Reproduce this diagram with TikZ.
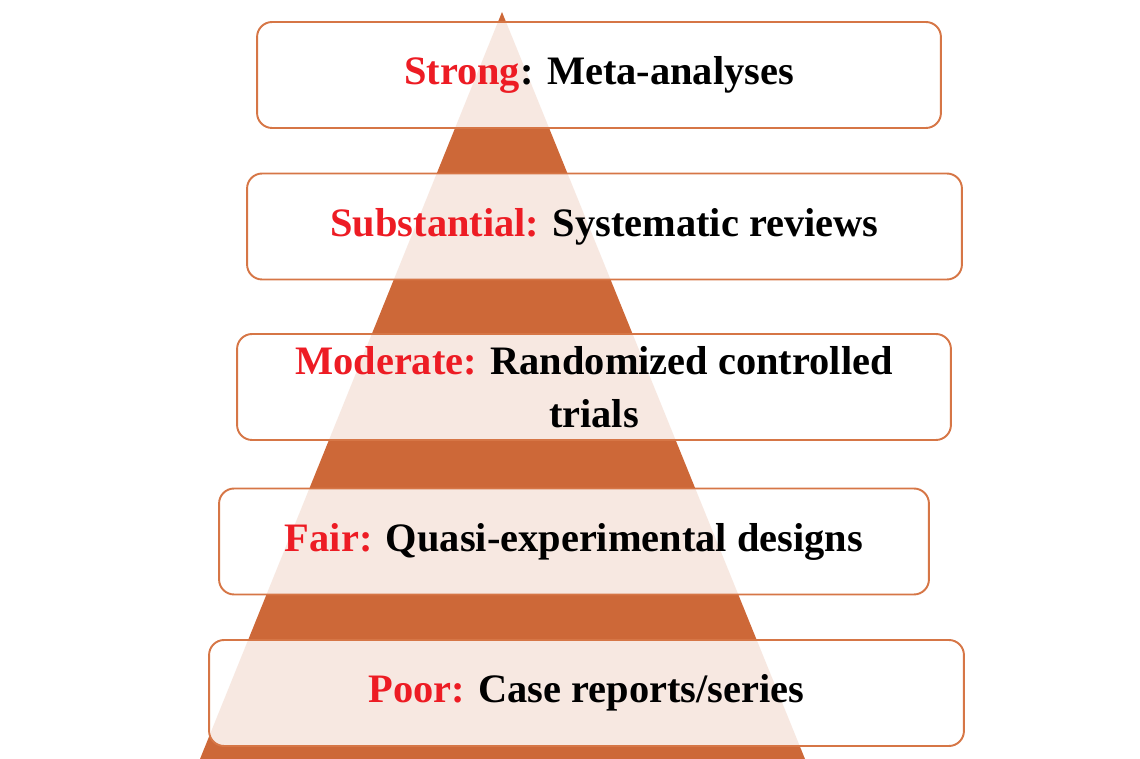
\documentclass[tikz,border=0pt]{standalone}
\usepackage{fontspec}
\setmainfont{Liberation Serif}
\definecolor{piramida}{RGB}{205,104,56}
\definecolor{chenar}{RGB}{214,118,70}
\definecolor{rosu}{RGB}{237,28,36}

\begin{document}
\begin{tikzpicture}[x=0.02cm,y=-0.02cm,
  caseta/.style={draw=chenar,line width=1.1pt,rounded corners=0.3cm,
    fill=white,fill opacity=0.85,text opacity=1,inner sep=0pt,
    minimum height=2.12cm,align=center,
    font=\fontsize{23}{30}\selectfont\bfseries}]
  \useasboundingbox (0,0) rectangle (1140,759);

  % vârfurile piramidei
  \coordinate (V) at (502,12);
  \coordinate (S) at (200,759);
  \coordinate (D) at (805,759);

  % piramida
  \fill[piramida] (V) -- (S) -- (D) -- cycle;

  % casetele
  \node[caseta,minimum width=13.68cm] (strong) at (599,75)
    {\textcolor{rosu}{Strong}: Meta-analyses};
  \node[caseta,minimum width=14.3cm] (substantial) at (604.5,226.5)
    {\textcolor{rosu}{Substantial:} Systematic reviews};
  \node[caseta,minimum width=14.28cm] (moderate) at (594,387)
    {\textcolor{rosu}{Moderate:} Randomized controlled\\trials};
  \node[caseta,minimum width=14.2cm] (fair) at (574,541.5)
    {\textcolor{rosu}{Fair:} Quasi-experimental designs};
  \node[caseta,minimum width=15.1cm] (poor) at (586.5,693)
    {\textcolor{rosu}{Poor:} Case reports/series};
\end{tikzpicture}
\end{document}
